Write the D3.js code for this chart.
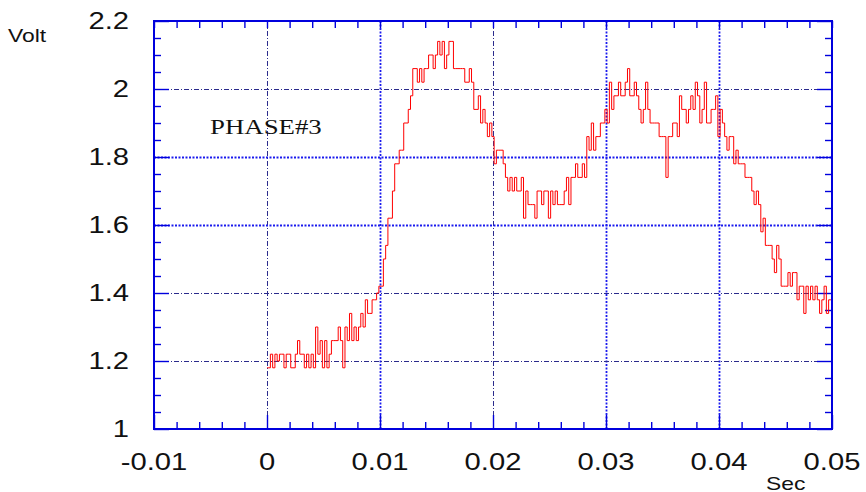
<!DOCTYPE html>
<html>
<head>
<meta charset="utf-8">
<script src="https://cdn.jsdelivr.net/npm/d3@7"></script>
<style>
  body { margin: 0; background: #ffffff; }
  svg { display: block; }
</style>
</head>
<body>
<svg id="chart" width="866" height="492"></svg>
<script>
// Axis ticks and labels
const xTickValues = [-0.01, 0, 0.01, 0.02, 0.03, 0.04, 0.05];
const xTickLabels = ["-0.01", "0", "0.01", "0.02", "0.03", "0.04", "0.05"];
const yTickValues = [1, 1.2, 1.4, 1.6, 1.8, 2, 2.2];
const yTickLabels = ["1", "1.2", "1.4", "1.6", "1.8", "2", "2.2"];

// Sampled phase-3 voltage (V), one reading every 0.2 ms starting at t = 0
const sampleStart = 0;
const sampleInterval = 0.0002;
const voltage = [
  1.18, 1.18, 1.22, 1.18, 1.22, 1.20, 1.22, 1.22, 1.18, 1.22,
  1.22, 1.18, 1.18, 1.22, 1.26, 1.22, 1.22, 1.18, 1.22, 1.18,
  1.22, 1.18, 1.30, 1.22, 1.26, 1.18, 1.26, 1.18, 1.22, 1.26,
  1.26, 1.26, 1.30, 1.26, 1.18, 1.30, 1.26, 1.34, 1.26, 1.30,
  1.26, 1.30, 1.34, 1.30, 1.38, 1.34, 1.34, 1.38, 1.38, 1.40,
  1.42, 1.42, 1.50, 1.54, 1.62, 1.62, 1.70, 1.78, 1.78, 1.82,
  1.82, 1.90, 1.90, 1.94, 1.98, 2.06, 2.06, 2.02, 2.06, 2.02,
  2.06, 2.06, 2.10, 2.10, 2.06, 2.10, 2.14, 2.10, 2.14, 2.06,
  2.10, 2.14, 2.14, 2.06, 2.06, 2.06, 2.06, 2.06, 2.02, 2.02,
  2.06, 2.02, 1.94, 1.94, 1.98, 1.90, 1.94, 1.90, 1.86, 1.90,
  1.86, 1.78, 1.82, 1.82, 1.82, 1.78, 1.74, 1.70, 1.74, 1.70,
  1.74, 1.70, 1.70, 1.74, 1.62, 1.70, 1.66, 1.66, 1.66, 1.62,
  1.70, 1.70, 1.66, 1.70, 1.70, 1.62, 1.70, 1.66, 1.70, 1.66,
  1.66, 1.66, 1.70, 1.74, 1.66, 1.74, 1.74, 1.78, 1.74, 1.74,
  1.78, 1.74, 1.86, 1.82, 1.90, 1.82, 1.86, 1.86, 1.90, 1.90,
  1.94, 1.90, 2.02, 1.94, 1.98, 1.98, 2.02, 1.98, 1.98, 2.02,
  2.06, 1.98, 1.98, 2.02, 1.98, 1.94, 1.90, 1.94, 2.02, 1.94,
  1.90, 1.90, 1.90, 1.90, 1.86, 1.86, 1.86, 1.74, 1.86, 1.86,
  1.90, 1.90, 1.86, 1.98, 1.94, 1.94, 1.90, 1.94, 1.98, 1.94,
  2.02, 1.98, 1.90, 1.94, 2.02, 1.90, 1.90, 1.94, 1.94, 1.98,
  1.86, 1.94, 1.90, 1.86, 1.82, 1.86, 1.86, 1.78, 1.82, 1.78,
  1.78, 1.78, 1.74, 1.74, 1.74, 1.70, 1.66, 1.70, 1.66, 1.58,
  1.62, 1.54, 1.54, 1.54, 1.50, 1.46, 1.54, 1.50, 1.42, 1.42,
  1.42, 1.46, 1.42, 1.46, 1.46, 1.38, 1.42, 1.42, 1.34, 1.42,
  1.38, 1.42, 1.38, 1.42, 1.38, 1.34, 1.38, 1.42, 1.34, 1.38, 1.38
];

const seriesName = "PHASE#3";
const xTitle = "Sec";
const yTitle = "Volt";

// ---- layout ----
const plot = { left: 154, top: 21, right: 832, bottom: 429 };
const axisColor = "#0000dd";
const textStretch = 1.27;

const svg = d3.select("#chart");

const x = d3.scaleLinear().domain([-0.01, 0.05]).range([plot.left, plot.right]);
const y = d3.scaleLinear().domain([1, 2.2]).range([plot.bottom, plot.top]);

// ---- grid ----
const strongX = new Set([0.01, 0.03, 0.04]);
const strongY = new Set([1.6, 1.8]);
const grid = svg.append("g").attr("class", "grid");

grid.selectAll("line.gx")
  .data(xTickValues.slice(1, -1))
  .join("line")
  .attr("class", "gx")
  .attr("x1", d => Math.round(x(d)) + 0.5).attr("x2", d => Math.round(x(d)) + 0.5)
  .attr("y1", plot.top).attr("y2", plot.bottom)
  .attr("stroke", d => strongX.has(d) ? "#1a1aee" : "#2b2b8c")
  .attr("stroke-width", d => strongX.has(d) ? 1.8 : 1)
  .attr("stroke-dasharray", d => strongX.has(d) ? "2,1.5" : "5,2,1,2");

grid.selectAll("line.gy")
  .data(yTickValues.slice(1, -1))
  .join("line")
  .attr("class", "gy")
  .attr("x1", plot.left).attr("x2", plot.right)
  .attr("y1", d => Math.round(y(d)) + 0.5).attr("y2", d => Math.round(y(d)) + 0.5)
  .attr("stroke", d => strongY.has(d) ? "#1a1aee" : "#2b2b8c")
  .attr("stroke-width", d => strongY.has(d) ? 1.8 : 1)
  .attr("stroke-dasharray", d => strongY.has(d) ? "2,1.5" : "5,2,1,2");

// ---- ticks (inward, on all four sides) ----
const minorX = d3.range(-0.01, 0.0501, 0.002).filter(v => Math.abs(v * 100 - Math.round(v * 100)) > 1e-6);
const minorY = d3.range(1, 2.2001, 0.05).filter(v => Math.abs(v * 5 - Math.round(v * 5)) > 1e-6);

function styleAxis(g) {
  g.select(".domain").remove();
  g.selectAll(".tick line").attr("stroke", axisColor).attr("stroke-width", 1.4);
  g.selectAll(".tick text").remove();
}

const axes = svg.append("g").attr("class", "axes");
axes.append("g").attr("transform", `translate(0,${plot.bottom})`)
  .call(d3.axisBottom(x).tickValues(xTickValues).tickSize(-14).tickFormat("")).call(styleAxis);
axes.append("g").attr("transform", `translate(0,${plot.bottom})`)
  .call(d3.axisBottom(x).tickValues(minorX).tickSize(-7).tickFormat("")).call(styleAxis);
axes.append("g").attr("transform", `translate(0,${plot.top})`)
  .call(d3.axisTop(x).tickValues(xTickValues).tickSize(-7).tickFormat("")).call(styleAxis);
axes.append("g").attr("transform", `translate(0,${plot.top})`)
  .call(d3.axisTop(x).tickValues(minorX).tickSize(-7).tickFormat("")).call(styleAxis);
axes.append("g").attr("transform", `translate(${plot.left},0)`)
  .call(d3.axisLeft(y).tickValues(yTickValues).tickSize(-15).tickFormat("")).call(styleAxis);
axes.append("g").attr("transform", `translate(${plot.left},0)`)
  .call(d3.axisLeft(y).tickValues(minorY).tickSize(-7).tickFormat("")).call(styleAxis);
axes.append("g").attr("transform", `translate(${plot.right},0)`)
  .call(d3.axisRight(y).tickValues(yTickValues).tickSize(-15).tickFormat("")).call(styleAxis);
axes.append("g").attr("transform", `translate(${plot.right},0)`)
  .call(d3.axisRight(y).tickValues(minorY).tickSize(-7).tickFormat("")).call(styleAxis);

// ---- signal trace (sample-and-hold steps) ----
const samples = voltage.map((v, i) => ({ t: sampleStart + i * sampleInterval, v }));
const line = d3.line().x(d => x(d.t)).y(d => y(d.v)).curve(d3.curveStep);
svg.append("path")
  .datum(samples)
  .attr("fill", "none")
  .attr("stroke", "#ff0000")
  .attr("stroke-width", 1)
  .attr("d", line);

// ---- frame ----
svg.append("rect")
  .attr("x", plot.left).attr("y", plot.top)
  .attr("width", plot.right - plot.left).attr("height", plot.bottom - plot.top)
  .attr("fill", "none").attr("stroke", axisColor).attr("stroke-width", 2);

// ---- tick labels ----
const sans = "'Liberation Sans', Arial, sans-serif";
svg.append("g").selectAll("text")
  .data(xTickValues)
  .join("text")
  .attr("transform", d => `translate(${x(d)},470) scale(${textStretch},1)`)
  .attr("text-anchor", "middle")
  .attr("font-family", sans).attr("font-size", 23).attr("fill", "#111")
  .text((d, i) => xTickLabels[i]);

svg.append("g").selectAll("text")
  .data(yTickValues)
  .join("text")
  .attr("transform", d => `translate(129,${y(d) + 8.3}) scale(${textStretch},1)`)
  .attr("text-anchor", "end")
  .attr("font-family", sans).attr("font-size", 23).attr("fill", "#111")
  .text((d, i) => yTickLabels[i]);

// ---- titles ----
svg.append("text")
  .attr("transform", `translate(8,41.5) scale(${textStretch},1)`)
  .attr("font-family", sans).attr("font-size", 18).attr("fill", "#111")
  .text(yTitle);

svg.append("text")
  .attr("transform", `translate(766,490) scale(${textStretch},1)`)
  .attr("font-family", sans).attr("font-size", 18).attr("fill", "#111")
  .text(xTitle);

svg.append("text")
  .attr("transform", `translate(210,133.5) scale(1.22,1)`)
  .attr("font-family", "'Liberation Serif', 'Times New Roman', serif")
  .attr("font-size", 22).attr("fill", "#111")
  .text(seriesName);
</script>
</body>
</html>
